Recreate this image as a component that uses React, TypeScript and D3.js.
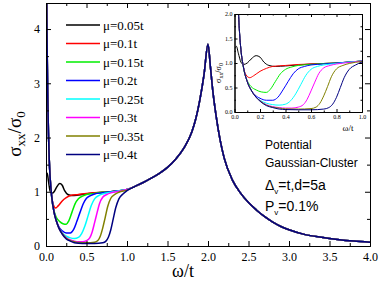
import React, { useEffect, useRef } from 'react';
import * as d3 from 'd3';

const muLabels = ['μ=0.05t', 'μ=0.1t', 'μ=0.15t', 'μ=0.2t', 'μ=0.25t', 'μ=0.3t', 'μ=0.35t', 'μ=0.4t'];
const colors = ['#000000', '#ff0000', '#00ee00', '#0000ff', '#00ffff', '#ff00ff', '#808000', '#000080'];

// low-frequency part of each series (omega/t, sigma_xx/sigma_0)
const s005: [number, number][] = [[0.004, 1.3], [0.015, 1.34], [0.03, 1.2], [0.05, 1.02], [0.07, 0.97], [0.1, 1.0], [0.13, 1.08], [0.17, 1.15], [0.2, 1.12], [0.23, 1.02], [0.27, 0.95], [0.32, 0.93], [0.4, 0.94], [0.5, 0.96], [0.6, 0.98], [0.7, 0.99], [0.8, 1.0], [0.9, 1.02], [1.0, 1.04]];
const s010: [number, number][] = [[0.0, 6.0], [0.01, 4.2], [0.02, 2.9], [0.03, 2.1], [0.04, 1.6], [0.05, 1.28], [0.07, 0.92], [0.09, 0.76], [0.12, 0.7], [0.15, 0.74], [0.2, 0.83], [0.25, 0.89], [0.3, 0.93], [0.4, 0.95], [0.5, 0.97], [0.6, 0.98], [0.7, 0.99], [0.8, 1.0], [0.9, 1.02], [1.0, 1.04]];
const s015: [number, number][] = [[0.0, 6.0], [0.01, 4.2], [0.02, 2.9], [0.03, 2.1], [0.04, 1.6], [0.05, 1.28], [0.07, 0.9], [0.1, 0.64], [0.13, 0.52], [0.17, 0.45], [0.21, 0.41], [0.25, 0.4], [0.28, 0.46], [0.32, 0.62], [0.36, 0.78], [0.4, 0.87], [0.45, 0.92], [0.5, 0.95], [0.6, 0.97], [0.7, 0.99], [0.8, 1.0], [0.9, 1.02], [1.0, 1.04]];
const s020: [number, number][] = [[0.0, 6.0], [0.01, 4.2], [0.02, 2.9], [0.03, 2.1], [0.04, 1.6], [0.05, 1.28], [0.07, 0.92], [0.1, 0.62], [0.13, 0.45], [0.16, 0.35], [0.2, 0.28], [0.25, 0.24], [0.3, 0.24], [0.34, 0.3], [0.38, 0.45], [0.42, 0.62], [0.46, 0.78], [0.5, 0.88], [0.55, 0.93], [0.6, 0.96], [0.7, 0.98], [0.8, 1.0], [0.9, 1.02], [1.0, 1.04]];
const s025: [number, number][] = [[0.0, 6.0], [0.01, 4.2], [0.02, 2.9], [0.03, 2.1], [0.04, 1.6], [0.05, 1.28], [0.07, 0.92], [0.1, 0.62], [0.13, 0.45], [0.16, 0.33], [0.2, 0.24], [0.25, 0.18], [0.3, 0.15], [0.35, 0.14], [0.4, 0.16], [0.44, 0.23], [0.48, 0.37], [0.52, 0.56], [0.56, 0.75], [0.6, 0.87], [0.65, 0.93], [0.7, 0.96], [0.8, 0.99], [0.9, 1.02], [1.0, 1.04]];
const s030: [number, number][] = [[0.0, 6.0], [0.01, 4.2], [0.02, 2.9], [0.03, 2.1], [0.04, 1.6], [0.05, 1.28], [0.07, 0.92], [0.1, 0.62], [0.13, 0.45], [0.16, 0.33], [0.2, 0.23], [0.25, 0.15], [0.3, 0.11], [0.35, 0.09], [0.4, 0.08], [0.45, 0.08], [0.5, 0.1], [0.54, 0.15], [0.57, 0.26], [0.6, 0.43], [0.63, 0.61], [0.66, 0.78], [0.7, 0.9], [0.75, 0.95], [0.8, 0.98], [0.9, 1.01], [1.0, 1.04]];
const s035: [number, number][] = [[0.0, 6.0], [0.01, 4.2], [0.02, 2.9], [0.03, 2.1], [0.04, 1.6], [0.05, 1.28], [0.07, 0.92], [0.1, 0.62], [0.13, 0.45], [0.16, 0.33], [0.2, 0.23], [0.25, 0.14], [0.3, 0.1], [0.35, 0.08], [0.4, 0.065], [0.5, 0.06], [0.6, 0.07], [0.64, 0.1], [0.67, 0.18], [0.7, 0.33], [0.73, 0.52], [0.76, 0.72], [0.8, 0.88], [0.85, 0.95], [0.9, 0.99], [1.0, 1.03]];
const s040: [number, number][] = [[0.0, 6.0], [0.01, 4.2], [0.02, 2.9], [0.03, 2.1], [0.04, 1.6], [0.05, 1.28], [0.07, 0.92], [0.1, 0.62], [0.13, 0.45], [0.16, 0.33], [0.2, 0.22], [0.25, 0.13], [0.3, 0.09], [0.35, 0.06], [0.4, 0.05], [0.5, 0.045], [0.6, 0.045], [0.7, 0.06], [0.74, 0.09], [0.77, 0.16], [0.8, 0.3], [0.83, 0.5], [0.86, 0.7], [0.9, 0.87], [0.95, 0.96], [1.0, 1.02]];

// shared high-frequency part
const commonTail: [number, number][] = [[1.1, 1.1], [1.2, 1.17], [1.3, 1.25], [1.4, 1.34], [1.5, 1.45], [1.6, 1.6], [1.7, 1.8], [1.8, 2.1], [1.85, 2.35], [1.9, 2.7], [1.95, 3.15], [2.0, 3.72], [2.03, 3.3], [2.06, 2.85], [2.1, 2.4], [2.15, 1.95], [2.2, 1.62], [2.3, 1.22], [2.4, 0.98], [2.5, 0.8], [2.6, 0.66], [2.7, 0.54], [2.8, 0.44], [2.9, 0.36], [3.0, 0.3], [3.2, 0.21], [3.4, 0.16], [3.6, 0.12], [3.8, 0.09], [4.0, 0.07]];

const lowParts = [s005, s010, s015, s020, s025, s030, s035, s040];

const xMajor = [0, 0.5, 1, 1.5, 2, 2.5, 3, 3.5, 4];
const xMinor = [0.25, 0.75, 1.25, 1.75, 2.25, 2.75, 3.25, 3.75];
const yMajor = [0, 1, 2, 3, 4];
const yMinor = [0.5, 1.5, 2.5, 3.5];
const inXMajor = [0, 0.2, 0.4, 0.6, 0.8, 1.0];
const inXMinor = [0.1, 0.3, 0.5, 0.7, 0.9];
const inYMajor = [0, 0.5, 1.0, 1.5, 2.0];
const inYMinor = [0.25, 0.75, 1.25, 1.75];

const annotations = ['Potential', 'Gaussian-Cluster'];

export default function App() {
  const ref = useRef<SVGSVGElement>(null);
  useEffect(() => {
    const svg = d3.select(ref.current);
    svg.selectAll('*').remove();
    const serif = "'Liberation Serif', 'Times New Roman', Times, serif";
    const sans = "'Liberation Sans', Arial, sans-serif";

    const x = d3.scaleLinear().domain([0, 4]).range([46, 370]);
    const y = d3.scaleLinear().domain([0, 4.48]).range([246, 3]);
    const series = lowParts.map(p => p.concat(commonTail));

    const defs = svg.append('defs');
    defs.append('clipPath').attr('id', 'mainClip').append('rect')
      .attr('x', 46).attr('y', 3).attr('width', 324).attr('height', 243);

    const line = d3.line<[number, number]>().x(d => x(d[0])).y(d => y(d[1])).curve(d3.curveMonotoneX);
    const g = svg.append('g').attr('clip-path', 'url(#mainClip)');
    series.forEach((s, i) => {
      g.append('path').attr('d', line(s)).attr('fill', 'none').attr('stroke', colors[i]).attr('stroke-width', 1.5);
    });

    const styleAxis = (sel: any, fs: number) => {
      sel.attr('font-family', serif).attr('font-size', fs);
      sel.selectAll('path').attr('stroke', '#000').attr('stroke-width', 1);
      sel.selectAll('line').attr('stroke', '#000');
      sel.selectAll('text').style('font-family', serif).attr('font-size', fs).attr('fill', '#000');
    };

    // main axes
    const bottom = svg.append('g').attr('transform', 'translate(0,246)')
      .call(d3.axisBottom(x).tickValues(xMajor).tickFormat(d3.format('.1f')).tickSize(-5).tickSizeOuter(0).tickPadding(6));
    styleAxis(bottom, 12);
    const bottomMinor = svg.append('g').attr('transform', 'translate(0,246)')
      .call(d3.axisBottom(x).tickValues(xMinor).tickFormat(() => '').tickSize(-3).tickSizeOuter(0));
    styleAxis(bottomMinor, 12);
    const top = svg.append('g').attr('transform', 'translate(0,3)')
      .call(d3.axisTop(x).tickValues(xMajor).tickFormat(() => '').tickSize(-5).tickSizeOuter(0));
    styleAxis(top, 12);
    const topMinor = svg.append('g').attr('transform', 'translate(0,3)')
      .call(d3.axisTop(x).tickValues(xMinor).tickFormat(() => '').tickSize(-3).tickSizeOuter(0));
    styleAxis(topMinor, 12);
    const left = svg.append('g').attr('transform', 'translate(46,0)')
      .call(d3.axisLeft(y).tickValues(yMajor).tickFormat(d3.format('d')).tickSize(-5).tickSizeOuter(0).tickPadding(6));
    styleAxis(left, 12);
    const leftMinor = svg.append('g').attr('transform', 'translate(46,0)')
      .call(d3.axisLeft(y).tickValues(yMinor).tickFormat(() => '').tickSize(-3).tickSizeOuter(0));
    styleAxis(leftMinor, 12);
    const right = svg.append('g').attr('transform', 'translate(370,0)')
      .call(d3.axisRight(y).tickValues(yMajor).tickFormat(() => '').tickSize(-5).tickSizeOuter(0));
    styleAxis(right, 12);
    const rightMinor = svg.append('g').attr('transform', 'translate(370,0)')
      .call(d3.axisRight(y).tickValues(yMinor).tickFormat(() => '').tickSize(-3).tickSizeOuter(0));
    styleAxis(rightMinor, 12);

    // axis titles
    const yt = svg.append('text').attr('transform', 'translate(21,134) rotate(-90)')
      .attr('text-anchor', 'middle').style('font-family', serif).attr('font-size', 19);
    yt.append('tspan').text('σ');
    yt.append('tspan').attr('font-size', 13).attr('dy', 4).text('xx');
    yt.append('tspan').attr('dy', -4).text('/σ');
    yt.append('tspan').attr('font-size', 13).attr('dy', 4).text('0');
    svg.append('text').attr('x', 183).attr('y', 277).attr('text-anchor', 'middle')
      .style('font-family', serif).attr('font-size', 18).text('ω/t');

    // legend
    const legendY = d3.scaleLinear().domain([0, 7]).range([25, 154.5]);
    muLabels.forEach((lab, i) => {
      const yy = legendY(i);
      svg.append('line').attr('x1', 66).attr('x2', 100).attr('y1', yy).attr('y2', yy)
        .attr('stroke', colors[i]).attr('stroke-width', 1.5);
      svg.append('text').attr('x', 103).attr('y', yy + 4.5).style('font-family', serif)
        .attr('font-size', 13).text(lab);
    });

    // annotations
    svg.append('text').attr('x', 265).attr('y', 149).style('font-family', sans).attr('font-size', 12).text(annotations[0]);
    svg.append('text').attr('x', 265).attr('y', 167).style('font-family', sans).attr('font-size', 12).text(annotations[1]);
    const a3 = svg.append('text').attr('x', 265).attr('y', 190).style('font-family', sans).attr('font-size', 14);
    a3.append('tspan').text('Δ');
    a3.append('tspan').attr('font-size', 8).attr('dy', 4).text('v');
    a3.append('tspan').attr('dy', -4).text('=t,d=5a');
    const a4 = svg.append('text').attr('x', 265).attr('y', 211).style('font-family', sans).attr('font-size', 14);
    a4.append('tspan').text('P');
    a4.append('tspan').attr('font-size', 8).attr('dy', 4).text('v');
    a4.append('tspan').attr('dy', -4).text('=0.1%');

    // inset
    const xi = d3.scaleLinear().domain([0, 1]).range([234.5, 362]);
    const yi = d3.scaleLinear().domain([0, 2]).range([112, 14]);
    svg.append('rect').attr('x', 234.5).attr('y', 14).attr('width', 127.5).attr('height', 98).attr('fill', '#fff');
    defs.append('clipPath').attr('id', 'insetClip').append('rect')
      .attr('x', 234.5).attr('y', 14).attr('width', 127.5).attr('height', 98);
    const lineI = d3.line<[number, number]>().x(d => xi(d[0])).y(d => yi(d[1])).curve(d3.curveMonotoneX);
    const gi = svg.append('g').attr('clip-path', 'url(#insetClip)');
    lowParts.forEach((s, i) => {
      gi.append('path').attr('d', lineI(s)).attr('fill', 'none').attr('stroke', colors[i]).attr('stroke-width', 1);
    });
    const ib = svg.append('g').attr('transform', 'translate(0,112)')
      .call(d3.axisBottom(xi).tickValues(inXMajor).tickFormat(d3.format('.1f')).tickSize(-3).tickSizeOuter(0).tickPadding(3));
    styleAxis(ib, 6);
    const ibm = svg.append('g').attr('transform', 'translate(0,112)')
      .call(d3.axisBottom(xi).tickValues(inXMinor).tickFormat(() => '').tickSize(-1.5).tickSizeOuter(0));
    styleAxis(ibm, 6);
    const it = svg.append('g').attr('transform', 'translate(0,14)')
      .call(d3.axisTop(xi).tickValues(inXMajor).tickFormat(() => '').tickSize(-3).tickSizeOuter(0));
    styleAxis(it, 6);
    const itm = svg.append('g').attr('transform', 'translate(0,14)')
      .call(d3.axisTop(xi).tickValues(inXMinor).tickFormat(() => '').tickSize(-1.5).tickSizeOuter(0));
    styleAxis(itm, 6);
    const il = svg.append('g').attr('transform', 'translate(234.5,0)')
      .call(d3.axisLeft(yi).tickValues(inYMajor).tickFormat(d3.format('.1f')).tickSize(-3).tickSizeOuter(0).tickPadding(2));
    styleAxis(il, 6);
    const ilm = svg.append('g').attr('transform', 'translate(234.5,0)')
      .call(d3.axisLeft(yi).tickValues(inYMinor).tickFormat(() => '').tickSize(-1.5).tickSizeOuter(0));
    styleAxis(ilm, 6);
    const ir = svg.append('g').attr('transform', 'translate(362,0)')
      .call(d3.axisRight(yi).tickValues(inYMajor).tickFormat(() => '').tickSize(-3).tickSizeOuter(0));
    styleAxis(ir, 6);
    const irm = svg.append('g').attr('transform', 'translate(362,0)')
      .call(d3.axisRight(yi).tickValues(inYMinor).tickFormat(() => '').tickSize(-1.5).tickSizeOuter(0));
    styleAxis(irm, 6);

    const iyt = svg.append('text').attr('transform', 'translate(221,73) rotate(-90)')
      .attr('text-anchor', 'middle').style('font-family', serif).attr('font-size', 8);
    iyt.append('tspan').text('σ');
    iyt.append('tspan').attr('font-size', 6).attr('dy', 2).text('xx');
    iyt.append('tspan').attr('dy', -2).text('/σ');
    iyt.append('tspan').attr('font-size', 6).attr('dy', 2).text('0');
    svg.append('text').attr('x', 348).attr('y', 131).attr('text-anchor', 'middle')
      .style('font-family', serif).attr('font-size', 9).text('ω/t');
  }, []);

  return (
    <svg ref={ref} width={382} height={286} style={{ position: 'absolute', left: 0, top: 0, background: '#fff' }} />
  );
}
